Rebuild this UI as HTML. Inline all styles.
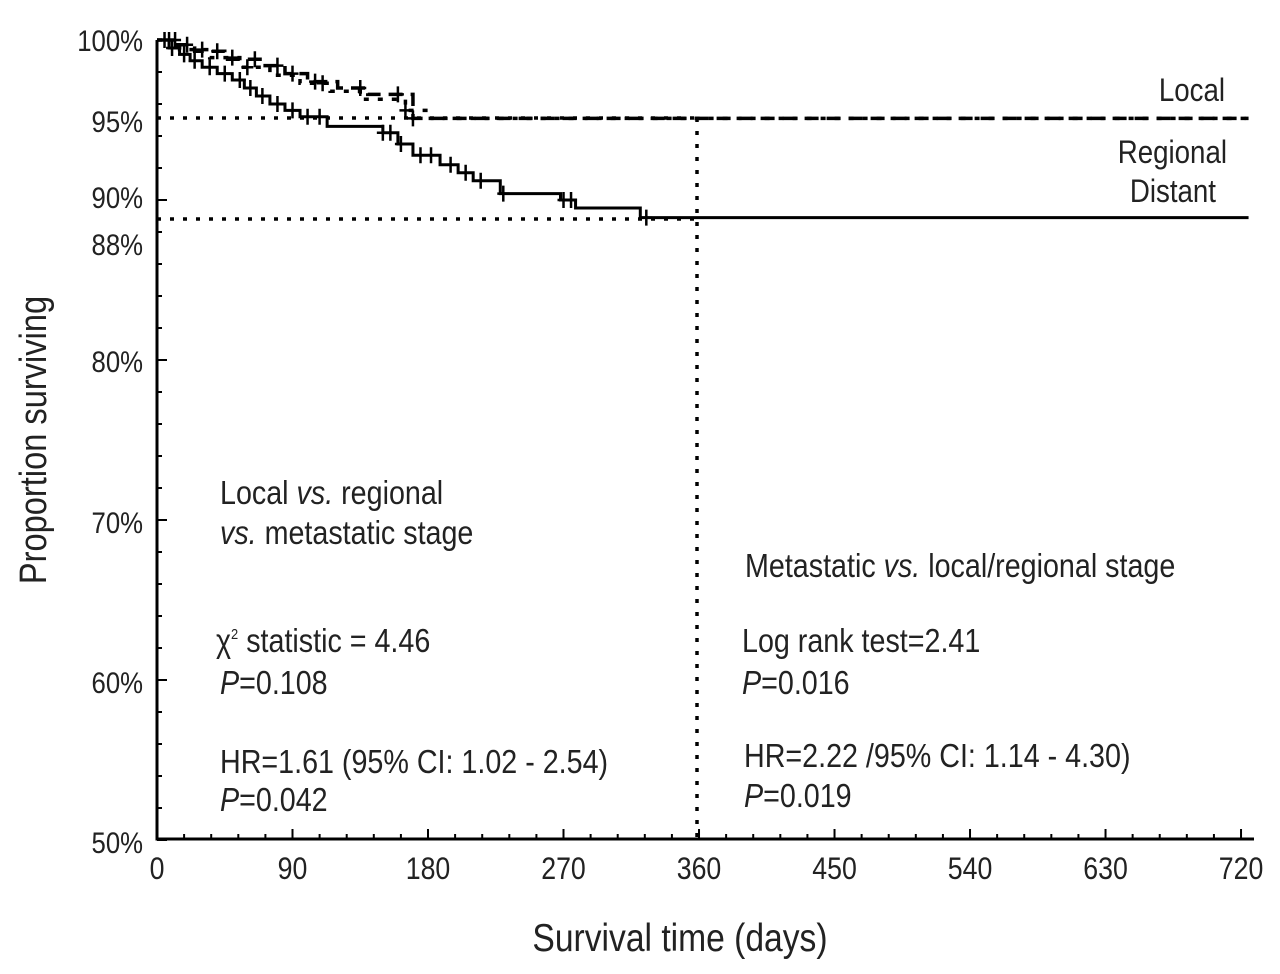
<!DOCTYPE html>
<html><head><meta charset="utf-8"><style>
body{margin:0;background:#fff}
svg text{font-family:"Liberation Sans Narrow","Liberation Sans",sans-serif;fill:#222}
</style></head><body>
<svg id="c" width="1280" height="969" xmlns="http://www.w3.org/2000/svg"></svg>
<script>
const xTicks=[0,90,180,270,360,450,540,630,720];
const yTicks=[100,95,90,88,80,70,60,50];
const distantT=[0,8,15,22,30,40,50,58,66,75,85,95,113,150,160,170,188,200,210,228,268,278,321,725];
const distantS=[100,99.5,99.1,98.7,98.3,97.9,97.5,97.0,96.5,96.0,95.6,95.2,94.6,94.2,93.5,92.8,92.2,91.7,91.2,90.4,90.0,89.5,88.9,88.9];
const localT=[0,10,25,45,70,85,100,120,140,170,725];
const localS=[100,99.7,99.3,98.8,98.4,97.9,97.4,97.0,96.6,95.1,95.1];
const regionalT=[0,15,35,55,75,95,115,135,165,180,725];
const regionalS=[100,99.4,98.9,98.3,97.8,97.3,96.8,96.3,95.6,95.1,95.1];
const censD=[5,10,18,25,35,45,55,62,70,80,90,100,108,150,155,162,175,182,195,205,215,230,270,275,325];
const censL=[8,20,40,65,80,90,105,135,160,170];
const censR=[12,30,50,60,110,165];
const X=d=>157+d*1.5056, Y=p=>40+(100-p)*16;
const s=document.getElementById('c');
function el(t,a,p){const e=document.createElementNS('http://www.w3.org/2000/svg',t);for(const k in a)e.setAttribute(k,a[k]);(p||s).appendChild(e);return e;}
function txt(x,y,size,anchor,extra){const a={x:0,y:0,'font-size':size*1.15,'text-anchor':anchor||'start',transform:`translate(${x},${y}) ${extra||''} scale(0.86,1)`};return el('text',a);}
function stepPath(T,S){let d='M'+X(T[0])+','+Y(S[0]);for(let i=1;i<T.length;i++){d+=' H'+X(T[i])+' V'+Y(S[i]);}return d;}
function valAt(T,S,t){let v=S[0];for(let i=0;i<T.length;i++){if(T[i]<=t)v=S[i];}return v;}
let ax=el('path',{d:'M157,40 V839 H1254',stroke:'#000','stroke-width':3,fill:'none'});


for(let d=0;d<=720;d+=18){const t=el('line',{x1:X(d),x2:X(d),y1:839,y2:d%90==0?829:834,stroke:'#000','stroke-width':2});

}
for(let p=50;p<=100;p+=2){const t=el('line',{x1:157,x2:p%10==0?167:162,y1:Y(p),y2:Y(p),stroke:'#000','stroke-width':2});

}
xTicks.forEach(d=>{const t=txt(X(d),879,27,'middle');t.textContent=d;

});
const yPos={100:51,95:132,90:208,88:255,80:372,70:533,60:693,50:853};
yTicks.forEach(p=>{const t=txt(143,yPos[p],26,'end');t.textContent=p+'%';

});
let r1=el('line',{x1:157,x2:697,y1:118,y2:118,stroke:'#000','stroke-width':3.5,'stroke-dasharray':'4 9'});


let r2=el('line',{x1:157,x2:697,y1:219,y2:219,stroke:'#000','stroke-width':3.5,'stroke-dasharray':'4 9'});


let r3=el('line',{x1:697,x2:697,y1:118,y2:839,stroke:'#000','stroke-width':3.5,'stroke-dasharray':'4 9'});


let pd=el('path',{d:stepPath(distantT,distantS),stroke:'#000','stroke-width':3,fill:'none'});


let pl=el('path',{d:stepPath(localT,localS),stroke:'#000','stroke-width':3.5,fill:'none','stroke-dasharray':'14 8'});


let pr=el('path',{d:stepPath(regionalT,regionalS),stroke:'#000','stroke-width':3.5,fill:'none','stroke-dasharray':'5 9'});


function cross(t,v,name){const x=X(t),y=Y(v);const g=el('path',{d:`M${x-6},${y} H${x+6} M${x},${y-8} V${y+8}`,stroke:'#000','stroke-width':2.5});

}
censD.forEach(t=>cross(t,valAt(distantT,distantS,t),'distant-censor'));
censL.forEach(t=>cross(t,valAt(localT,localS,t),'local-censor'));
censR.forEach(t=>cross(t,valAt(regionalT,regionalS,t),'regional-censor'));
const labels=[[1225,101,'Local','end','legend-local'],[1227,163,'Regional','end','legend-regional'],[1216,202,'Distant','end','legend-distant']];
labels.forEach(l=>{const t=txt(l[0],l[1],28,l[3]);t.textContent=l[2];

});
let yt=txt(46,440,33,'middle','rotate(-90)');yt.textContent='Proportion surviving';


let xt=txt(680,951,34,'middle');xt.textContent='Survival time (days)';


const ann=[[220,504,'Local <tspan font-style="italic">vs.</tspan> regional','annot-left-title-1'],
[220,544,'<tspan font-style="italic">vs.</tspan> metastatic stage','annot-left-title-2'],
[216,652,'χ<tspan font-size="15" dy="-13">2</tspan><tspan dy="13"> statistic = 4.46</tspan>','annot-chi2'],
[220,694,'<tspan font-style="italic">P</tspan>=0.108','annot-p1'],
[220,773,'HR=1.61 (95% CI: 1.02 - 2.54)','annot-hr1'],
[220,811,'<tspan font-style="italic">P</tspan>=0.042','annot-p2'],
[745,577,'Metastatic <tspan font-style="italic">vs.</tspan> local/regional stage','annot-right-title'],
[742,652,'Log rank test=2.41','annot-logrank'],
[742,694,'<tspan font-style="italic">P</tspan>=0.016','annot-p3'],
[744,767,'HR=2.22 /95% CI: 1.14 - 4.30)','annot-hr2'],
[744,807,'<tspan font-style="italic">P</tspan>=0.019','annot-p4']];
ann.forEach(a=>{const t=txt(a[0],a[1],29,'start');t.innerHTML=a[2];

});
</script>
</body></html>
